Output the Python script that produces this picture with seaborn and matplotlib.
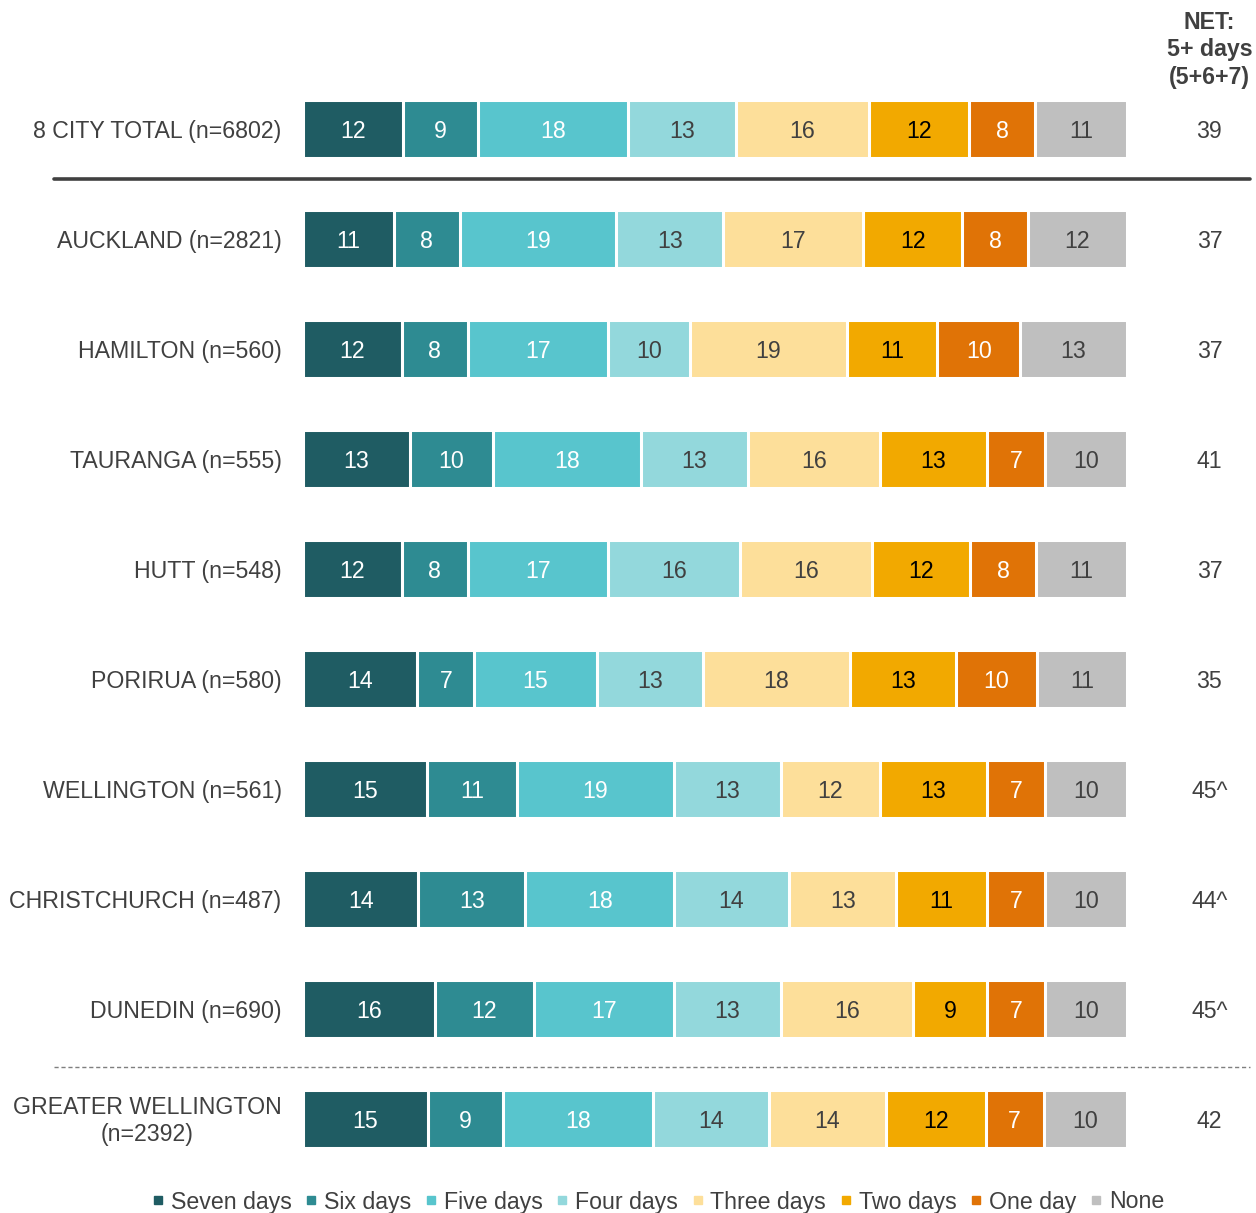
import pandas as pd
import numpy as np
import seaborn as sns
import matplotlib.pyplot as plt
from matplotlib.lines import Line2D

# rows (top to bottom)
cities = ["8 CITY TOTAL (n=6802)", "AUCKLAND (n=2821)", "HAMILTON (n=560)",
          "TAURANGA (n=555)", "HUTT (n=548)", "PORIRUA (n=580)",
          "WELLINGTON (n=561)", "CHRISTCHURCH (n=487)", "DUNEDIN (n=690)",
          "GREATER WELLINGTON\n(n=2392)"]

categories = ["Seven days", "Six days", "Five days", "Four days",
              "Three days", "Two days", "One day", "None"]

seven = [12, 11, 12, 13, 12, 14, 15, 14, 16, 15]
six = [9, 8, 8, 10, 8, 7, 11, 13, 12, 9]
five = [18, 19, 17, 18, 17, 15, 19, 18, 17, 18]
four = [13, 13, 10, 13, 16, 13, 13, 14, 13, 14]
three = [16, 17, 19, 16, 16, 18, 12, 13, 16, 14]
two = [12, 12, 11, 13, 12, 13, 13, 11, 9, 12]
one = [8, 8, 10, 7, 8, 10, 7, 7, 7, 7]
none = [11, 12, 13, 10, 11, 11, 10, 10, 10, 10]

net = ["39", "37", "37", "41", "37", "35", "45^", "44^", "45^", "42"]

colours = ["#1F5C63", "#2E8B92", "#58C5CD", "#93D8DC",
           "#FDDF9A", "#F2A900", "#E07306", "#BFBFBF"]
text_colours = ["white", "white", "white", "#404040",
                "#404040", "black", "white", "#404040"]

sns.set_style("white")
plt.rcParams['font.family'] = ['Liberation Sans', 'DejaVu Sans']
grey = "#404040"
fs = 16.7

df = pd.DataFrame({"Seven days": seven, "Six days": six, "Five days": five,
                   "Four days": four, "Three days": three, "Two days": two,
                   "One day": one, "None": none}, index=cities)
# bars fill the full width: scale each row to 100
pct = df.div(df.sum(axis=1), axis=0) * 100
cum = pct.cumsum(axis=1)

fig = plt.figure(figsize=(12.56, 12.13), dpi=100)
ax = fig.add_axes([303 / 1256, 0, 824 / 1256, 1])

# draw cumulative layers from the back, so each segment shows
for cat, col in reversed(list(zip(categories, colours))):
    d = pd.DataFrame({"city": cities, "val": cum[cat].values})
    sns.barplot(data=d, x="val", y="city", orient="h", color=col,
                width=0.527, edgecolor="white", linewidth=2.2,
                saturation=1, ax=ax)

ax.set_xlim(0, 100)
ax.set_ylim((1213 - 129) / 110, -129 / 110)
ax.axis("off")

# values in the segments
for i, city in enumerate(cities):
    for j, cat in enumerate(categories):
        mid = cum[cat].iloc[i] - pct[cat].iloc[i] / 2
        ax.text(mid, i + 0.02, str(df[cat].iloc[i]), ha="center", va="center",
                fontsize=fs, color=text_colours[j])
    ax.text(-2.6, i + 0.02, city, ha="right", va="center", fontsize=fs,
            color=grey, multialignment="center", linespacing=1.2, clip_on=False)
    ax.text(110.0, i + 0.02, net[i], ha="center", va="center", fontsize=fs,
            color=grey, clip_on=False)

ax.text(110.0, -0.72, "NET:\n5+ days\n(5+6+7)", ha="center", va="center",
        fontsize=fs, fontweight="bold", color=grey, linespacing=1.25,
        clip_on=False)

# separator lines
ax.plot([-30.2, 114.9], [0.455, 0.455], color=grey, linewidth=2.6,
        clip_on=False)
ax.plot([-30.2, 114.9], [8.527, 8.527], color="#7F7F7F", linewidth=1,
        linestyle=(0, (3, 2)), clip_on=False)

handles = [Line2D([], [], marker="s", linestyle="none", markersize=6,
                  markerfacecolor=c, markeredgecolor=c) for c in colours]
fig.legend(handles, categories, loc="center", ncol=8,
           bbox_to_anchor=(658 / 1256, 1 - 1202 / 1213), frameon=False,
           fontsize=fs, handlelength=0.5, handletextpad=0.3,
           columnspacing=0.6, labelcolor=grey)

fig.savefig("out.png", dpi=100)
